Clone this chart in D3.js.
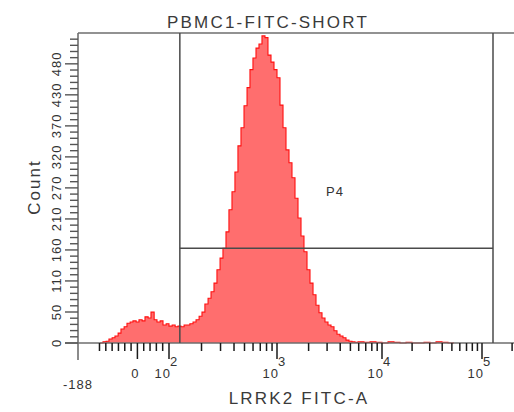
<!DOCTYPE html>
<html><head><meta charset="utf-8">
<script src="https://cdn.jsdelivr.net/npm/d3@7"></script>
<style>
html,body{margin:0;padding:0;background:#fff;}
svg{display:block;font-family:"Liberation Sans",Arial,sans-serif;}
</style></head><body>
<svg id="chart" width="514" height="412"></svg>
<script>
// Histogram bins: lower edge of each bin (LRRK2 FITC-A) and the event count in it
const binStart = [-118,-109,-99,-90,-80,-71,-61,-52,-42,-33,-23,-14,-4,5,15,24,34,43,53,62,72,81,91,
  100,107,114,121,129,138,147,156,167,178,190,202,215,230,245,261,278,297,316,337,359,383,408,435,464,495,
  528,562,599,639,681,726,774,825,880,938,1000,1068,1141,1218,1301,1389,1484,1585,1693,1807,1931,2062,
  2203,2352,2512,2683,2865,3060,3268,3490,3728,3981,4252,4541,4850,5179,5532,5908,6739,7686,8767,10000,
  11482,13183,15136,17378,19953,22909,26303,30200,34674,39811,45709];
const binEnd = 52481;
const binCount = [0,2,3,7,9,12,17,24,28,34,36,38,36,40,38,45,43,53,40,36,38,31,33,
  29,31,28,29,28,31,31,33,36,40,46,53,67,77,88,103,126,146,163,191,229,260,294,339,370,408,
  439,470,490,507,514,528,525,495,483,470,456,409,370,332,310,284,249,215,184,157,126,103,
  83,65,52,43,36,31,28,21,15,12,9,5,3,2,1,2,1,2,1,0,
  2,1,0,1,0,0,1,0,2,1,0];

// Axis ticks
const xMajorValues = [0, 100, 1000, 10000, 100000];
const xMajorLabels = [["0", ""], ["10", "2"], ["10", "3"], ["10", "4"], ["10", "5"]];
const xMinorValues = [-120,-100,-80,-60,-40,-20,20,40,60,80,
  200,300,400,500,600,700,800,900,2000,3000,4000,5000,6000,7000,8000,9000,
  20000,30000,40000,50000,60000,70000,80000,90000,200000];
const xMinValue = -188, xMaxValue = 262144;
const yTickValues = [0, 53.3, 106.7, 160, 213.3, 266.7, 320, 373.3, 426.7, 480];
const yTickLabels = ["0","50","110","160","210","270","320","370","430","480"];
const yMax = 533;

// Gate P4
const gateLow = 126, gateHigh = 128825, gateCount = 163;

const title = "PBMC1-FITC-SHORT";
const xTitle = "LRRK2 FITC-A";
const yTitle = "Count";

// Biexponential-style display: linear up to 100, logarithmic above
const T = v => v <= 100 ? v / 100 : 1 + Math.log10(v / 100);
const xLin = d3.scaleLinear()
  .domain([T(xMinValue), T(100), T(1000), T(10000), T(100000), T(xMaxValue)])
  .range([78, 169, 277, 382, 482, 482 + 100 * Math.log10(xMaxValue / 100000)]);
const x = v => xLin(T(v));
const y = d3.scaleLinear().domain([0, yMax]).range([343, 33]);

const svg = d3.select("#chart");

// Histogram
const bins = binStart.map((v, i) => ({v, c: binCount[i]}));
bins.push({v: binEnd, c: 0});
const area = d3.area().x(d => x(d.v)).y0(y(0)).y1(d => y(d.c)).curve(d3.curveStepAfter);
const line = d3.line().x(d => x(d.v)).y(d => y(d.c)).curve(d3.curveStepAfter);
svg.append("path").datum(bins).attr("d", area).attr("fill", "#ff6e6e");
svg.append("path").datum(bins).attr("d", line).attr("fill", "none")
  .attr("stroke", "#ff1010").attr("stroke-width", 1.1);

// Frame
const frame = svg.append("g").attr("stroke", "#6e6e6e").attr("stroke-width", 1.6).attr("fill", "none");
frame.append("line").attr("x1", x(xMinValue)).attr("x2", x(xMaxValue)).attr("y1", y(yMax)).attr("y2", y(yMax));
frame.append("line").attr("x1", x(xMinValue)).attr("x2", x(xMinValue)).attr("y1", y(yMax)).attr("y2", 360);
frame.append("line").attr("x1", 65).attr("x2", x(xMaxValue)).attr("y1", y(0)).attr("y2", y(0));

// Gate
const gate = svg.append("g").attr("stroke", "#4a4a4a").attr("stroke-width", 1.5).attr("fill", "none");
gate.append("line").attr("x1", x(gateLow)).attr("x2", x(gateLow)).attr("y1", y(yMax)).attr("y2", y(0));
gate.append("line").attr("x1", x(gateHigh)).attr("x2", x(gateHigh)).attr("y1", y(yMax)).attr("y2", y(0));
gate.append("line").attr("x1", x(gateLow)).attr("x2", x(gateHigh)).attr("y1", y(gateCount)).attr("y2", y(gateCount));
svg.append("text").attr("x", 335).attr("y", 196).attr("text-anchor", "middle")
  .attr("font-size", 13).attr("letter-spacing", 1).attr("fill", "#333").text("P4");

// X ticks
const xt = svg.append("g").attr("stroke", "#1a1a1a").attr("stroke-width", 1.5);
xt.selectAll(".mn").data(xMinorValues).join("line")
  .attr("x1", d => x(d)).attr("x2", d => x(d)).attr("y1", y(0)).attr("y2", y(0) + 8);
xt.selectAll(".mj").data(xMajorValues).join("line")
  .attr("x1", d => x(d)).attr("x2", d => x(d)).attr("y1", y(0)).attr("y2", y(0) + 16);

const xl = svg.append("g").attr("font-size", 13).attr("fill", "#333").attr("letter-spacing", 1);
xMajorValues.forEach((v, i) => {
  const [base, exp] = xMajorLabels[i];
  if (!exp) {
    xl.append("text").attr("x", x(v) - 2).attr("y", 378).attr("text-anchor", "middle").text(base);
  } else {
    xl.append("text").attr("x", x(v) + 2).attr("y", 378).attr("text-anchor", "end").text(base);
    xl.append("text").attr("x", x(v) + 1).attr("y", 366).attr("text-anchor", "start").text(exp);
  }
});
xl.append("text").attr("x", x(xMinValue)).attr("y", 389).attr("text-anchor", "middle").text(String(xMinValue));

// Y ticks: four minor ticks between labelled ones
const yMinor = [];
for (let i = 0; i < yTickValues.length; i++) {
  const a = yTickValues[i], b = i + 1 < yTickValues.length ? yTickValues[i + 1] : yMax;
  for (let k = 1; k < 5; k++) { const v = a + (b - a) * k / 5; if (v < yMax) yMinor.push(v); }
}
const yt = svg.append("g").attr("stroke", "#555").attr("stroke-width", 1.4);
yt.selectAll(".mn").data(yMinor).join("line")
  .attr("x1", 78).attr("x2", 70).attr("y1", d => y(d)).attr("y2", d => y(d));
yt.selectAll(".mj").data(yTickValues).join("line")
  .attr("x1", 78).attr("x2", 65).attr("y1", d => y(d)).attr("y2", d => y(d));
svg.append("g").attr("font-size", 13).attr("fill", "#333").attr("letter-spacing", 1)
  .selectAll("text").data(yTickValues).join("text")
  .attr("transform", d => `translate(61,${y(d)}) rotate(-90)`)
  .attr("text-anchor", "middle").text((d, i) => yTickLabels[i]);

// Titles
svg.append("text").attr("x", 268).attr("y", 28).attr("text-anchor", "middle")
  .attr("font-size", 17).attr("letter-spacing", 2.2).attr("fill", "#3a3a3a").text(title);
svg.append("text").attr("x", 299).attr("y", 404).attr("text-anchor", "middle")
  .attr("font-size", 17).attr("letter-spacing", 2.2).attr("fill", "#3a3a3a").text(xTitle);
svg.append("text").attr("transform", "translate(40,187) rotate(-90)").attr("text-anchor", "middle")
  .attr("font-size", 17).attr("letter-spacing", 2).attr("fill", "#3a3a3a").text(yTitle);
</script>
</body></html>
